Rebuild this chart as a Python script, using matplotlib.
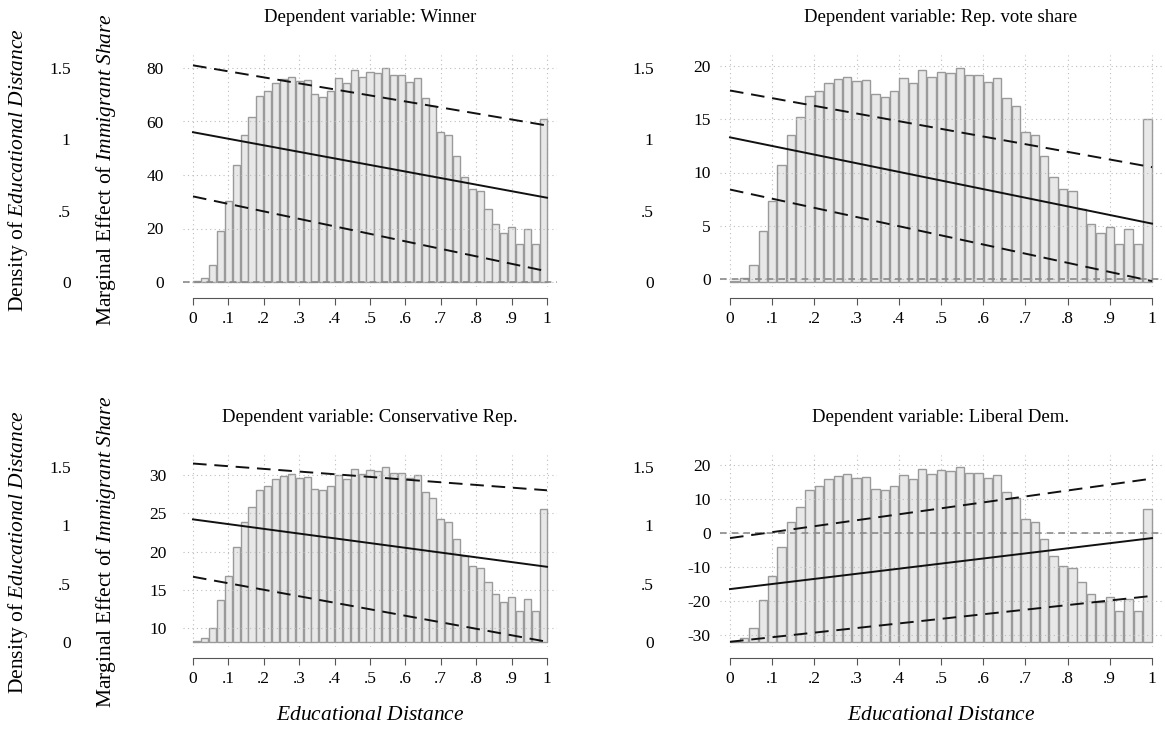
import numpy as np
import matplotlib
matplotlib.use("Agg")
import matplotlib.pyplot as plt

plt.rcParams['font.family'] = 'Liberation Serif'
plt.rcParams['mathtext.fontset'] = 'custom'
plt.rcParams['mathtext.rm'] = 'Liberation Serif'
plt.rcParams['mathtext.it'] = 'Liberation Serif:italic'

# Histogram of educational distance (density), 45 bins on [0,1]
density = [0.007, 0.03, 0.117, 0.357, 0.568, 0.818, 1.03, 1.159, 1.304, 1.339,
           1.397, 1.421, 1.437, 1.409, 1.414, 1.315, 1.299, 1.339, 1.432, 1.393,
           1.486, 1.439, 1.474, 1.463, 1.502, 1.449, 1.451, 1.404, 1.428, 1.287,
           1.231, 1.051, 1.03, 0.883, 0.736, 0.650, 0.638, 0.514, 0.409, 0.346,
           0.388, 0.269, 0.369, 0.269, 1.14]

titles = ["Dependent variable: Winner", "Dependent variable: Rep. vote share",
          "Dependent variable: Conservative Rep.", "Dependent variable: Liberal Dem."]
# marginal effect at x=0 and x=1: estimate, upper CI, lower CI
me_est = [(56, 31.5), (13.3, 5.2), (24.2, 18.0), (-16.5, -1.5)]
me_hi = [(81, 58.5), (17.7, 10.5), (31.5, 28.0), (-1.5, 16.0)]
me_lo = [(32, 4.0), (8.4, -0.2), (16.7, 8.2), (-32.0, -18.5)]
me_ticks = [[0, 20, 40, 60, 80], [0, 5, 10, 15, 20], [10, 15, 20, 25, 30],
            [-30, -20, -10, 0, 10, 20]]
me_ticklabels = [[str(t) for t in tk] for tk in me_ticks]
zero_line = [True, True, False, True]
dens_ticks = [0, 0.5, 1, 1.5]
dens_labels = ["0", ".5", "1", "1.5"]
x_ticks = [i / 10 for i in range(11)]
x_labels = ["0", ".1", ".2", ".3", ".4", ".5", ".6", ".7", ".8", ".9", "1"]

W, H = 1165, 729
fig = plt.figure(figsize=(W / 100, H / 100), dpi=100)

geo = [(183, 557, 55, 287, 193, 547), (720, 1162, 55, 287, 730, 1152),
       (183, 557, 455, 647, 193, 547), (720, 1162, 455, 647, 730, 1152)]
dcal = [(282, 142.7), (282, 142.7), (642, 116.7), (642, 116.7)]
mcal = [(0, 282, 80, 68), (0, 279, 20, 66), (10, 628, 30, 475), (-30, 635, 20, 465)]
dens_off = [111, 65, 111, 65]
me_off = [18, 8, 15, 8]

nb = len(density)
edges = np.linspace(0, 1, nb + 1)
bw = 1 / nb

for i in range(4):
    l, r, t, b, x0, x1 = geo[i]
    ax = fig.add_axes([l / W, 1 - b / H, (r - l) / W, (b - t) / H])
    ppx = (x1 - x0)
    ax.set_xlim(-(x0 - l) / ppx, 1 + (r - x1) / ppx)
    p0, s = dcal[i]
    ax.set_ylim((p0 - b) / s, (p0 - t) / s)
    a, pa, bb, pb = mcal[i]
    k = (bb - a) / (pa - pb)
    ax2 = ax.twinx()
    ax2.set_ylim(a + (pa - b) * k, a + (pa - t) * k)

    for xv in x_ticks:
        ax.axvline(xv, color='#bdbdbd', lw=0.8, ls=(0, (1, 3)), zorder=0)
    for mv in me_ticks[i]:
        ax2.axhline(mv, color='#bdbdbd', lw=0.8, ls=(0, (1, 3)), zorder=0)

    ax.bar(edges[:-1] + bw * 0.05, density, width=bw * 0.9, align='edge',
           color='#e8e8e8', edgecolor='#9a9a9a', lw=1.0, zorder=2)

    if zero_line[i]:
        ax2.axhline(0, color='#8a8a8a', lw=1.2, ls=(0, (4, 3)), zorder=3)
    xs = [0, 1]
    ax2.plot(xs, me_est[i], color='#111111', lw=1.4, zorder=4)
    ax2.plot(xs, me_hi[i], color='#111111', lw=1.4, ls=(0, (7, 4)), zorder=4)
    ax2.plot(xs, me_lo[i], color='#111111', lw=1.4, ls=(0, (7, 4)), zorder=4)

    for sp in ax.spines.values():
        sp.set_visible(False)
    for sp in ax2.spines.values():
        sp.set_visible(False)
    ax2.set_xlim(ax.get_xlim())

    ax.spines['bottom'].set_visible(True)
    ax.spines['bottom'].set_position(('outward', 8))
    ax.spines['bottom'].set_color('#555555')
    ax.spines['bottom'].set_bounds(0, 1)
    ax.set_xticks(x_ticks)
    ax.set_xticklabels(x_labels, fontsize=12.5)
    ax.tick_params(axis='x', length=5, color='#555555', pad=4)

    ax.yaxis.tick_left()
    ax.spines['left'].set_position(('outward', dens_off[i] * 0.72))
    ax.set_yticks(dens_ticks)
    ax.set_yticklabels(dens_labels, fontsize=12.5)
    ax.tick_params(axis='y', length=0, pad=1)

    ax2.yaxis.tick_left()
    ax2.spines['left'].set_position(('outward', me_off[i] * 0.72))
    ax2.set_yticks(me_ticks[i])
    ax2.set_yticklabels(me_ticklabels[i], fontsize=12.5)
    ax2.tick_params(axis='y', length=0, pad=1)
    ax2.tick_params(axis='x', which='both', bottom=False, top=False,
                    labelbottom=False, labeltop=False)

    fig.text((x0 + x1) / 2 / W, 1 - (t - 37) / H, titles[i], ha='center',
             va='center', fontsize=13.5)
    if i >= 2:
        fig.text((x0 + x1) / 2 / W, 1 - 716 / H, r'$\mathit{Educational\ Distance}$',
                 ha='center', va='center', fontsize=15.5)

for yc in (170, 552):
    fig.text(18 / W, 1 - yc / H, r'Density of $\mathit{Educational\ Distance}$',
             rotation=90, ha='center', va='center', fontsize=15.5)
    fig.text(106 / W, 1 - yc / H, r'Marginal Effect of $\mathit{Immigrant\ Share}$',
             rotation=90, ha='center', va='center', fontsize=15.5)

fig.savefig("out.png", dpi=100, facecolor='white')
